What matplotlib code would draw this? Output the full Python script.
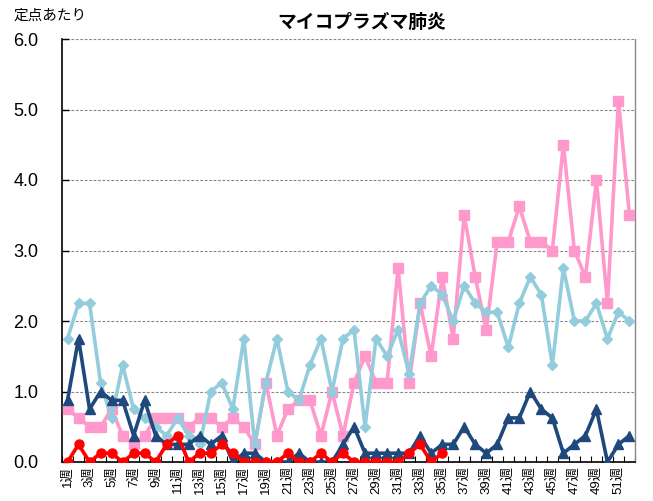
import matplotlib
matplotlib.use("Agg")
import matplotlib.pyplot as plt
import numpy as np

weeks = [f"{i}週" for i in range(1, 53)]

series_pink = [0.75, 0.625, 0.5, 0.5, 0.75, 0.375, 0.25, 0.375, 0.625, 0.625,
               0.625, 0.5, 0.625, 0.625, 0.5, 0.625, 0.5, 0.25, 1.125, 0.375,
               0.75, 0.875, 0.875, 0.375, 1.0, 0.375, 1.125, 1.5, 1.125, 1.125,
               2.75, 1.125, 2.25, 1.5, 2.625, 1.75, 3.5, 2.625, 1.875, 3.125,
               3.125, 3.625, 3.125, 3.125, 3.0, 4.5, 3.0, 2.625, 4.0, 2.25,
               5.125, 3.5]

series_lightblue = [1.75, 2.25, 2.25, 1.125, 0.625, 1.375, 0.75, 0.625, 0.5, 0.375,
                    0.625, 0.375, 0.25, 1.0, 1.125, 0.75, 1.75, 0.25, 1.125, 1.75,
                    1.0, 0.875, 1.375, 1.75, 1.0, 1.75, 1.875, 0.5, 1.75, 1.5,
                    1.875, 1.25, 2.25, 2.5, 2.375, 2.0, 2.5, 2.25, 2.125, 2.125,
                    1.625, 2.25, 2.625, 2.375, 1.375, 2.75, 2.0, 2.0, 2.25, 1.75,
                    2.125, 2.0]

series_navy = [0.875, 1.75, 0.75, 1.0, 0.875, 0.875, 0.375, 0.875, 0.375, 0.25,
               0.25, 0.25, 0.375, 0.25, 0.375, 0.0, 0.125, 0.125, 0.0, 0.0,
               0.0, 0.125, 0.0, 0.0, 0.0, 0.25, 0.5, 0.125, 0.125, 0.125,
               0.125, 0.125, 0.375, 0.125, 0.25, 0.25, 0.5, 0.25, 0.125, 0.25,
               0.625, 0.625, 1.0, 0.75, 0.625, 0.125, 0.25, 0.375, 0.75, 0.0,
               0.25, 0.375]

series_red = [0.0, 0.25, 0.0, 0.125, 0.125, 0.0, 0.125, 0.125, 0.0, 0.25,
              0.375, 0.0, 0.125, 0.125, 0.25, 0.125, 0.0, 0.0, 0.0, 0.0,
              0.125, 0.0, 0.0, 0.125, 0.0, 0.125, 0.0, 0.0, 0.0, 0.0,
              0.0, 0.125, 0.25, 0.0, 0.125]

y_ticks = [0.0, 1.0, 2.0, 3.0, 4.0, 5.0, 6.0]
y_tick_labels = ["0.0", "1.0", "2.0", "3.0", "4.0", "5.0", "6.0"]

title = "マイコプラズマ肺炎"
ylabel = "定点あたり"

plt.rcParams['font.family'] = ['Liberation Sans', 'Noto Sans CJK JP', 'DejaVu Sans']

fig = plt.figure(figsize=(6.53, 5.01), dpi=100)
ax = fig.add_axes([62/653, 1-462/501, (635-62)/653, (462-39)/501])

x = np.arange(len(weeks))
lw = 2.6
ax.plot(x[:len(series_pink)], series_pink, color="#FF99CC", lw=lw, marker="s", ms=6.5, zorder=3)
ax.plot(x[:len(series_lightblue)], series_lightblue, color="#93CDDD", lw=lw, marker="D", ms=5.5, zorder=4)
ax.plot(x[:len(series_navy)], series_navy, color="#1F497D", lw=lw, marker="^", ms=7, zorder=5)
ax.plot(x[:len(series_red)], series_red, color="#FF0000", lw=lw, marker="o", ms=6.5, zorder=6)

ax.set_xlim(-0.5, len(weeks) - 0.5)
ax.set_ylim(0, 6)

ax.set_yticks(y_ticks)
ax.set_yticklabels(y_tick_labels, fontsize=13)
ax.tick_params(axis='y', direction='in', length=5, width=1, pad=17)
for yv in y_ticks[1:]:
    ax.axhline(yv, color="#888888", lw=0.8, ls=(0, (2.5, 1.5)), zorder=1)

ax.set_xticks(x[::2])
ax.set_xticklabels(weeks[::2], rotation=90, fontsize=9.5, va='top', ha='center')
ax.set_xticks(np.arange(-0.5, len(weeks), 1), minor=True)
ax.tick_params(axis='x', which='major', length=0, pad=3)
ax.tick_params(axis='x', which='minor', direction='in', length=4, width=0.8)

ax.spines['top'].set_visible(False)
ax.spines['right'].set_color("#888888")
ax.spines['right'].set_linewidth(1.0)
ax.spines['left'].set_color("black")
ax.spines['left'].set_linewidth(1.2)
ax.spines['bottom'].set_color("black")
ax.spines['bottom'].set_linewidth(1.2)

fig.text(362/653, 1-22/501, title, fontsize=13.5, fontweight='bold',
         family=['Noto Sans CJK JP'], ha='center', va='center')
fig.text(14/653, 1-16/501, ylabel, fontsize=10.5,
         family=['Noto Sans CJK JP'], ha='left', va='center')

fig.savefig("out.png", dpi=100)
